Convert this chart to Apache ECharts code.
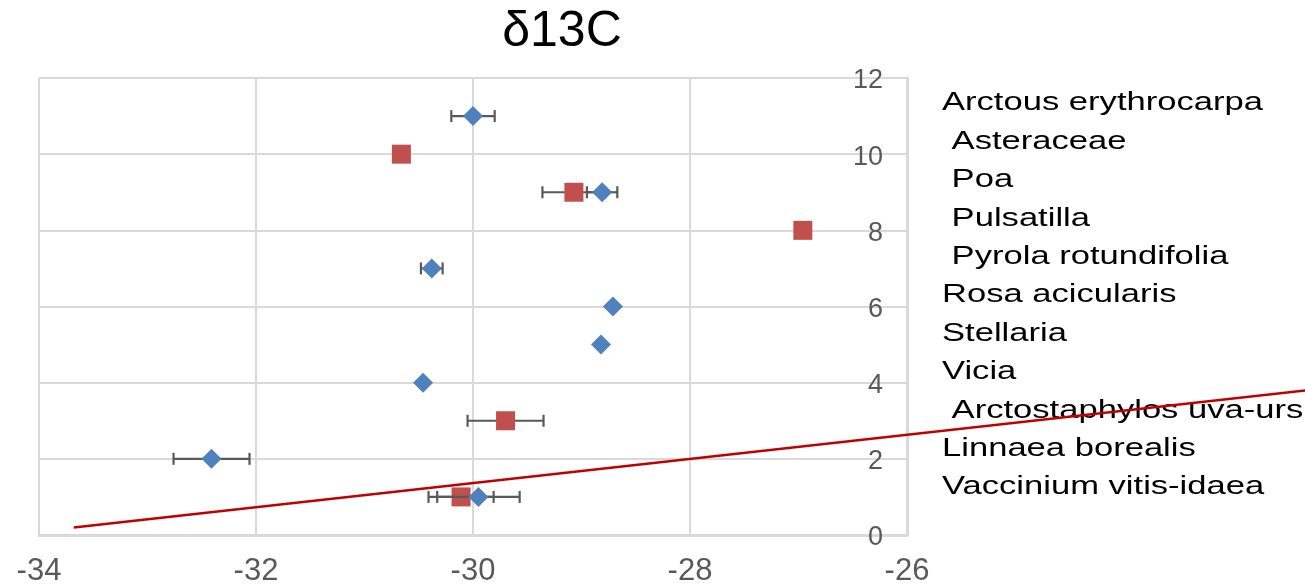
<!DOCTYPE html>
<html>
<head>
<meta charset="utf-8">
<script src="https://cdn.jsdelivr.net/npm/echarts@6/dist/echarts.min.js"></script>
<style>
  html, body { margin: 0; padding: 0; background: #ffffff; }
  #chart { width: 1305px; height: 587px; }
</style>
</head>
<body>
<div id="chart"></div>
<script>
// ---- data ----
const titleText = 'δ13C';
const xTicks = [-34, -32, -30, -28, -26];
const yTicks = [0, 2, 4, 6, 8, 10, 12];

// blue diamonds
const blueY   = [11, 9, 7, 6, 5, 4, 2, 1];
const blueX   = [-30.00, -28.81, -30.38, -28.71, -28.82, -30.46, -32.41, -29.95];
const blueErr = [0.20, 0.14, 0.10, 0, 0, 0, 0.35, 0.38];

// red squares
const redY   = [10, 9, 8, 3, 1];
const redX   = [-30.66, -29.07, -26.96, -29.70, -30.11];
const redErr = [0, 0.29, 0, 0.35, 0.30];

// red straight line (drawn across the chart)
const trendX = [-33.68, -22.0];
const trendY = [0.196, 3.90];

const speciesLabels = [
  'Arctous erythrocarpa',
  ' Asteraceae',
  ' Poa',
  ' Pulsatilla',
  ' Pyrola rotundifolia',
  'Rosa acicularis',
  'Stellaria',
  'Vicia',
  ' Arctostaphylos uva-urs',
  'Linnaea borealis',
  'Vaccinium vitis-idaea'
];

// ---- build ----
const bluePts = blueX.map((x, i) => [x, blueY[i]]);
const redPts = redX.map((x, i) => [x, redY[i]]);
const blueErrData = blueX.map((x, i) => [x, blueY[i], blueErr[i]]);
const redErrData = redX.map((x, i) => [x, redY[i], redErr[i]]);
const trendData = [[trendX[0], trendY[0], trendX[1], trendY[1]]];

function errRender(params, api) {
  const x = api.value(0), y = api.value(1), e = api.value(2);
  if (!e) return null;
  const p1 = api.coord([x - e, y]);
  const p2 = api.coord([x + e, y]);
  const h = 6;
  const st = { stroke: '#595959', lineWidth: 2.2 };
  return {
    type: 'group',
    children: [
      { type: 'line', shape: { x1: p1[0], y1: p1[1], x2: p2[0], y2: p2[1] }, style: st },
      { type: 'line', shape: { x1: p1[0], y1: p1[1] - h, x2: p1[0], y2: p1[1] + h }, style: st },
      { type: 'line', shape: { x1: p2[0], y1: p2[1] - h, x2: p2[0], y2: p2[1] + h }, style: st }
    ]
  };
}

function trendRender(params, api) {
  const a = api.coord([api.value(0), api.value(1)]);
  const b = api.coord([api.value(2), api.value(3)]);
  return {
    type: 'line',
    shape: { x1: a[0], y1: a[1], x2: b[0], y2: b[1] },
    style: { stroke: '#c00000', lineWidth: 2.5 }
  };
}

const chart = echarts.init(document.getElementById('chart'), null, { renderer: 'canvas' });
const font = '"Liberation Sans", Arial, sans-serif';

chart.setOption({
  animation: false,
  backgroundColor: '#ffffff',
  grid: { left: 39, right: 398, top: 78, bottom: 50.5, containLabel: false },
  xAxis: {
    type: 'value',
    min: xTicks[0], max: xTicks[xTicks.length - 1], interval: 2,
    axisLine: { show: true, onZero: false, lineStyle: { color: '#d9d9d9', width: 3 } },
    axisTick: { show: false },
    splitLine: { show: true, lineStyle: { color: '#d9d9d9', width: 2 } },
    axisLabel: { color: '#595959', fontSize: 31, fontFamily: font, margin: 21 }
  },
  yAxis: {
    type: 'value', position: 'right',
    min: yTicks[0], max: yTicks[yTicks.length - 1], interval: 2,
    axisLine: { show: true, onZero: false, lineStyle: { color: '#d9d9d9', width: 3 } },
    axisTick: { show: false },
    splitLine: { show: true, lineStyle: { color: '#d9d9d9', width: 2 } },
    axisLabel: {
      inside: true, color: '#595959', fontSize: 27, fontFamily: font, margin: 24,
      formatter: '{a|{value}}',
      rich: { a: { color: '#595959', fontSize: 27, fontFamily: font, padding: [6, 0, 0, 0] } }
    }
  },
  graphic: [
    {
      type: 'text', x: 562, y: 32,
      style: { text: titleText, fill: '#000000', font: '50px ' + font, textAlign: 'center', textVerticalAlign: 'middle' }
    },
    {
      type: 'text', x: 942, y: 84, scaleX: 1.33,
      style: { text: speciesLabels.join('\n'), fill: '#000000', font: '26px ' + font, lineHeight: 38.4, textAlign: 'left', textVerticalAlign: 'top' }
    }
  ],
  series: [
    {
      type: 'custom', renderItem: errRender, data: redErrData, z: 2, silent: true,
      encode: { x: 0, y: 1 }
    },
    {
      type: 'scatter', data: redPts, symbol: 'rect', symbolSize: 19, z: 3,
      itemStyle: { color: '#c0504d', opacity: 1 }
    },
    {
      type: 'custom', renderItem: errRender, data: blueErrData, z: 4, silent: true,
      encode: { x: 0, y: 1 }
    },
    {
      type: 'scatter', data: bluePts, symbol: 'diamond', symbolSize: 20, z: 5,
      itemStyle: { color: '#4f81bd', opacity: 1 }
    },
    {
      type: 'custom', renderItem: trendRender, data: trendData, clip: false, z: 6, silent: true,
      encode: { x: [0, 2], y: [1, 3] }
    }
  ]
});
</script>
</body>
</html>
